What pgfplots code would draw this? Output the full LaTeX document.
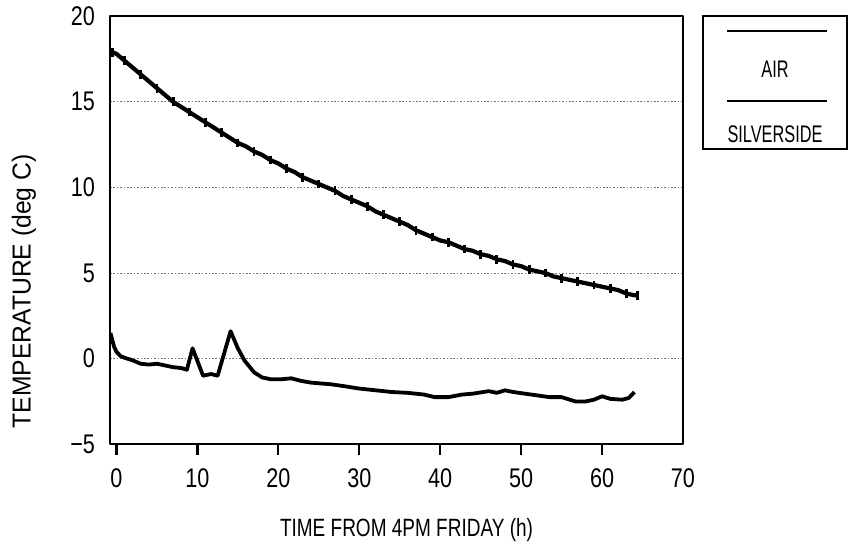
\documentclass[border=0pt]{standalone}
\usepackage{pgfplots}
\pgfplotsset{compat=1.18}
\usetikzlibrary{calc}
\usepackage{fontspec}
\setmainfont{Liberation Sans}[FakeStretch=0.8]
\newfontfamily\ylabfont{Liberation Sans}[FakeStretch=0.95]
\newfontfamily\xlabfont{Liberation Sans}[FakeStretch=0.76]
\newfontfamily\legfont{Liberation Sans}[FakeStretch=0.68]

\begin{document}
\begin{tikzpicture}
\begin{axis}[
    name=ax,
    scale only axis,
    width=286.5pt, height=214pt,
    xmin=-0.8, xmax=70, ymin=-5, ymax=20,
    xtick={0,10,...,70}, ytick={-5,0,...,20},
    yticklabels={−5,0,5,10,15,20},
    axis line style={line width=1pt},
    tick pos=left,
    major tick length=0pt,
    ymajorgrids,
    grid style={black!55, line width=0.5pt, dash pattern=on 0.8pt off 0.9pt},
    /pgf/number format/assume math mode=true,
    ticklabel style={font=\fontsize{13.5}{15}\selectfont},
    xticklabel style={anchor=north, yshift=-8.5pt},
    yticklabel style={anchor=east, xshift=-4pt},
    xlabel={TIME FROM 4PM FRIDAY (h)},
    ylabel={TEMPERATURE (deg C)},
    xlabel style={font=\xlabfont\fontsize{12.5}{14}\selectfont,
        at={([xshift=5pt,yshift=-43pt]axis description cs:0.5,0)}, anchor=center},
    ylabel style={font=\ylabfont\fontsize{13}{15}\selectfont,
        at={([xshift=-43pt]axis description cs:0,0.357)}, anchor=center},
    line join=round,
]

% AIR
\addplot[black, line width=2.1pt, mark=|, mark repeat=2, mark size=2.2pt,
    mark options={line width=1.4pt}]
coordinates {
    (-0.5,17.9) (0,17.8) (1,17.4) (2,17.0) (3,16.6) (4,16.2) (5,15.8) (6,15.4)
    (7,15.0) (8,14.7) (9,14.4) (10,14.1) (11,13.8) (12,13.5) (13,13.2) (14,12.9)
    (15,12.6) (16,12.4) (17,12.1) (18,11.9) (19,11.6) (20,11.4) (21,11.1) (22,10.9)
    (23,10.6) (24,10.4) (25,10.2) (26,10.0) (27,9.8) (28,9.5) (29,9.3) (30,9.1)
    (31,8.9) (32,8.6) (33,8.4) (34,8.2) (35,8.0) (36,7.8) (37,7.5) (38,7.3)
    (39,7.1) (40,6.9) (41,6.8) (42,6.6) (43,6.4) (44,6.3) (45,6.1) (46,6.0)
    (47,5.8) (48,5.7) (49,5.5) (50,5.4) (51,5.2) (52,5.1) (53,5.0) (54,4.8)
    (55,4.7) (56,4.6) (57,4.5) (58,4.4) (59,4.3) (60,4.2) (61,4.1) (62,4.0)
    (63,3.8) (64,3.7) (64.4,3.7)
};

% SILVERSIDE
\addplot[black, line width=1.9pt]
coordinates {
    (-0.75,1.5) (-0.3,0.7) (0,0.4) (0.5,0.15) (1,0.05) (2,-0.1) (3,-0.3)
    (4,-0.35) (5,-0.3) (6,-0.4) (7,-0.5) (8,-0.55) (8.7,-0.65) (9.4,0.6)
    (10.7,-1.0) (11.7,-0.9) (12.5,-1.0) (14.1,1.6) (15,0.6) (15.8,-0.1)
    (17,-0.8) (18,-1.1) (19,-1.2) (20.5,-1.2) (21.6,-1.15) (22.8,-1.3)
    (24,-1.4) (26.5,-1.5) (28,-1.6) (30,-1.75) (32,-1.85) (34,-1.95)
    (36,-2.0) (38,-2.1) (39.3,-2.25) (41,-2.25) (42.7,-2.1) (44,-2.05)
    (46,-1.9) (47,-2.0) (48,-1.85) (49,-1.95) (50.5,-2.05) (52,-2.15)
    (53.5,-2.25) (55,-2.25) (56.7,-2.5) (58,-2.5) (59,-2.4) (60,-2.2)
    (61,-2.35) (62.5,-2.4) (63.3,-2.3) (64,-1.95)
};
\end{axis}

% outward x tick marks along the bottom axis line
\foreach \t in {0,10,...,60} {
    \pgfmathsetmacro{\f}{(\t+0.8)/70.8}
    \draw[black, line width=1.1pt] ($(ax.south west)!\f!(ax.south east)$) -- ++(0,-5.5pt);
}

% legend box
\draw[line width=0.9pt] ([xshift=10pt]ax.north east) rectangle ([xshift=82pt,yshift=-66.5pt]ax.north east);
\draw[line width=1pt] ([xshift=22pt,yshift=-7.5pt]ax.north east) -- ++(50pt,0);
\node[font=\legfont\fontsize{12}{14}\selectfont] at ([xshift=46pt,yshift=-26.5pt]ax.north east) {AIR};
\draw[line width=1pt] ([xshift=22pt,yshift=-42.5pt]ax.north east) -- ++(50pt,0);
\node[font=\legfont\fontsize{12}{14}\selectfont] at ([xshift=46pt,yshift=-59pt]ax.north east) {SILVERSIDE};

% page frame
\path ([xshift=-55pt,yshift=-52pt]ax.south west) rectangle ([xshift=83pt,yshift=5pt]ax.north east);
\end{tikzpicture}
\end{document}
